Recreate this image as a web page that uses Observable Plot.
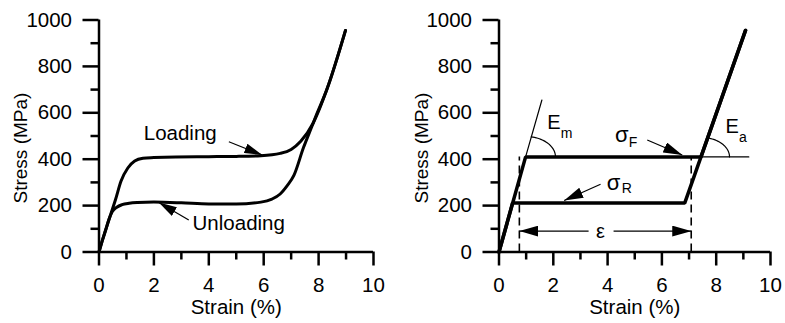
<!DOCTYPE html>
<html>
<head>
<meta charset="utf-8">
<script src="https://cdn.jsdelivr.net/npm/d3@7"></script>
<script src="https://cdn.jsdelivr.net/npm/@observablehq/plot@0.6"></script>
<style>
  html, body { margin: 0; padding: 0; background: #fff; }
  #row { display: flex; width: 785px; height: 323px; }
  #row svg { display: block; }
</style>
</head>
<body>
<div id="row"></div>
<script>
// ---------- axes ----------
const strainTicks = [0, 2, 4, 6, 8, 10];
const strainMinor = [1, 3, 5, 7, 9];
const stressTicks = [0, 200, 400, 600, 800, 1000];
const stressMinor = [100, 300, 500, 700, 900];
const xTitle = "Strain (%)";
const yTitle = "Stress (MPa)";
const xTitlePos = [5, -238];     // strain, stress
const yTitlePos = [-2.85, 448];

// ---------- left panel: measured loop ----------
const loadStrain   = [0, 0.12, 0.24, 0.42, 0.6, 0.8, 1.05, 1.3, 1.6, 2.0, 2.8, 4.0, 5.0, 5.9, 6.6, 7.0, 7.35, 7.8, 8.3, 8.98];
const loadStress   = [0, 48, 94, 160, 225, 305, 362, 392, 404, 407, 410, 411, 412, 415, 425, 442, 477, 555, 700, 955];
const unloadStrain = [0, 0.12, 0.24, 0.36, 0.48, 0.65, 0.84, 1.1, 1.4, 2.0, 3.0, 4.0, 5.0, 5.9, 6.3, 6.6, 6.85, 7.1, 7.45, 7.75, 7.9, 8.3, 8.98];
const unloadStress = [0, 50, 94, 140, 173, 193, 204, 210, 213, 215, 212, 207, 207, 215, 228, 250, 285, 330, 450, 540, 585, 700, 955];
const leftLabels = ["Loading", "Unloading"];
const leftLabelStrain = [2.96, 5.09];
const leftLabelStress = [509, 125];
const leftArrowFromStrain = [4.73, 3.27];
const leftArrowFromStress = [475, 138];
const leftArrowToStrain = [5.95, 2.18];
const leftArrowToStress = [418, 213];

// ---------- right panel: idealized model ----------
const modelLoadStrain   = [0, 0.98, 7.44, 9.08];
const modelLoadStress   = [0, 410, 410, 955];
const modelUnloadStrain = [9.08, 6.84, 0.5, 0];
const modelUnloadStress = [955, 211, 211, 0];
const emLineStrain = [0.98, 1.58];
const emLineStress = [410, 655];
const flatLineStrain = [7.44, 9.2];
const flatLineStress = [410, 410];
const dashStrain = [0.75, 7.08];
const dashTopStress = [410, 410];
const epsStress = 90;
const epsFromStrain = [3.3, 4.22];
const epsToStrain = [0.75, 7.08];
const epsLabelStrain = 3.74;
const rightArrowFromStrain = [5.46, 3.74];
const rightArrowFromStress = [483, 292];
const rightArrowToStrain = [6.75, 2.4];
const rightArrowToStress = [418, 222];
// angle arcs (E_m, E_a): corner, slope of the line they open to, semi-axes
const arcCenterStrain = [0.98, 7.44];
const arcCenterStress = [410, 410];
const arcSlope = [414, 330];
const arcRadiusStrain = [1.1, 1.05];
const arcRadiusStress = [88, 84];
// symbol labels
const symMain = ["E", "σ", "E", "σ"];
const symMainStrain = [1.78, 4.27, 8.34, 3.97];
const symMainStress = [556, 504, 540, 297];
const symMainSize = [20, 22, 20, 22];
const symSub = ["m", "F", "a", "R"];
const symSubStrain = [2.27, 4.78, 8.84, 4.52];
const symSubStress = [509, 474, 493, 272];

const FONT = "'Liberation Sans', Arial, Helvetica, sans-serif";

function rows(xs, ys) { return xs.map((x, i) => ({x, y: ys[i]})); }

function axisMarks() {
  return [
    Plot.axisY(stressTicks, {tickSize: 16, tickPadding: 11, fontSize: 20.5, strokeWidth: 2.5, tickFormat: d => String(d), label: null}),
    Plot.axisY(stressMinor, {tickSize: 8, strokeWidth: 2.5, tickFormat: () => "", label: null}),
    Plot.axisX(strainTicks, {tickSize: 14, tickPadding: 11, fontSize: 20.5, strokeWidth: 2.5, tickFormat: d => String(d), label: null}),
    Plot.axisX(strainMinor, {tickSize: 8, strokeWidth: 2.5, tickFormat: () => "", label: null}),
    Plot.ruleX([0], {y1: 0, y2: 1000, strokeWidth: 2.5}),
    Plot.ruleY([0], {x1: 0, x2: 10, strokeWidth: 2.5}),
    Plot.text([xTitle], {x: xTitlePos[0], y: xTitlePos[1], fontSize: 20.5, textAnchor: "middle"}),
    Plot.text([yTitle], {x: yTitlePos[0], y: yTitlePos[1], fontSize: 19, rotate: -90, textAnchor: "middle"})
  ];
}

function finish(svg, id, len, wid) {
  const s = d3.select(svg);
  // drop the empty labels of the minor-tick axes
  s.selectAll("text").filter(function() { return this.textContent === ""; }).remove();
  const defs = s.insert("defs", ":first-child");
  defs.append("marker")
    .attr("id", id)
    .attr("viewBox", `0 0 ${len} ${wid}`)
    .attr("refX", len).attr("refY", wid / 2)
    .attr("markerWidth", len).attr("markerHeight", wid)
    .attr("markerUnits", "userSpaceOnUse")
    .attr("orient", "auto")
    .append("path")
    .attr("d", `M0,0L${len},${wid / 2}L0,${wid}Z`)
    .attr("fill", "black");
  s.selectAll('g[aria-label="link"] path').attr("marker-end", `url(#${id})`);
}

function panel(width, marginLeft, marginRight, marks) {
  return Plot.plot({
    width, height: 323,
    marginLeft, marginRight, marginTop: 19.5, marginBottom: 71.5,
    x: {domain: [0, 10]},
    y: {domain: [0, 1000]},
    style: {fontFamily: FONT, fontSize: "20px", background: "white", color: "black", overflow: "visible"},
    marks: [...axisMarks(), ...marks]
  });
}

// ---------- left ----------
const leftArrows = leftArrowFromStrain.map((x1, i) => ({x1, y1: leftArrowFromStress[i], x2: leftArrowToStrain[i], y2: leftArrowToStress[i]}));
const left = panel(392, 98.5, 19, [
  Plot.line(rows(loadStrain, loadStress), {x: "x", y: "y", curve: "monotone-x", strokeWidth: 3}),
  Plot.line(rows(unloadStrain, unloadStress), {x: "x", y: "y", curve: "monotone-x", strokeWidth: 3}),
  Plot.link(leftArrows, {x1: "x1", y1: "y1", x2: "x2", y2: "y2", strokeWidth: 1.2}),
  Plot.text(leftLabels, {x: (d, i) => leftLabelStrain[i], y: (d, i) => leftLabelStress[i], text: d => d, fontSize: 20.5})
]);
finish(left, "triLeft", 18, 10);

// ---------- right ----------
const arcs = [];
arcCenterStrain.forEach((cx, i) => {
  const tEnd = Math.atan(arcSlope[i] * arcRadiusStrain[i] / arcRadiusStress[i]);
  for (let k = 0; k <= 24; ++k) {
    const t = tEnd * k / 24;
    arcs.push({arc: i, x: cx + arcRadiusStrain[i] * Math.cos(t), y: arcCenterStress[i] + arcRadiusStress[i] * Math.sin(t)});
  }
});
const rightArrows = rightArrowFromStrain.map((x1, i) => ({x1, y1: rightArrowFromStress[i], x2: rightArrowToStrain[i], y2: rightArrowToStress[i]}))
  .concat(epsFromStrain.map((x1, i) => ({x1, y1: epsStress, x2: epsToStrain[i], y2: epsStress})));

const right = panel(393, 106.5, 15, [
  Plot.line(rows(emLineStrain, emLineStress), {x: "x", y: "y", strokeWidth: 1.2}),
  Plot.line(rows(flatLineStrain, flatLineStress), {x: "x", y: "y", strokeWidth: 1.2}),
  Plot.line(arcs, {x: "x", y: "y", z: "arc", strokeWidth: 1.2, curve: "linear"}),
  Plot.ruleX(dashStrain, {x: d => d, y1: 0, y2: (d, i) => dashTopStress[i], strokeWidth: 1.6, strokeDasharray: "8,5"}),
  Plot.line(rows(modelLoadStrain, modelLoadStress), {x: "x", y: "y", strokeWidth: 3.5, strokeLinejoin: "miter"}),
  Plot.line(rows(modelUnloadStrain, modelUnloadStress), {x: "x", y: "y", strokeWidth: 3.5, strokeLinejoin: "miter"}),
  Plot.link(rightArrows, {x1: "x1", y1: "y1", x2: "x2", y2: "y2", strokeWidth: 1.2}),
  Plot.text(["ε"], {x: epsLabelStrain, y: epsStress, fontSize: 20}),
  Plot.text(symMain, {x: (d, i) => symMainStrain[i], y: (d, i) => symMainStress[i], text: d => d, fontSize: (d, i) => symMainSize[i], textAnchor: "start"}),
  Plot.text(symSub, {x: (d, i) => symSubStrain[i], y: (d, i) => symSubStress[i], text: d => d, fontSize: 14, textAnchor: "start"})
]);
finish(right, "triRight", 19, 11);

document.getElementById("row").append(left, right);
</script>
</body>
</html>
